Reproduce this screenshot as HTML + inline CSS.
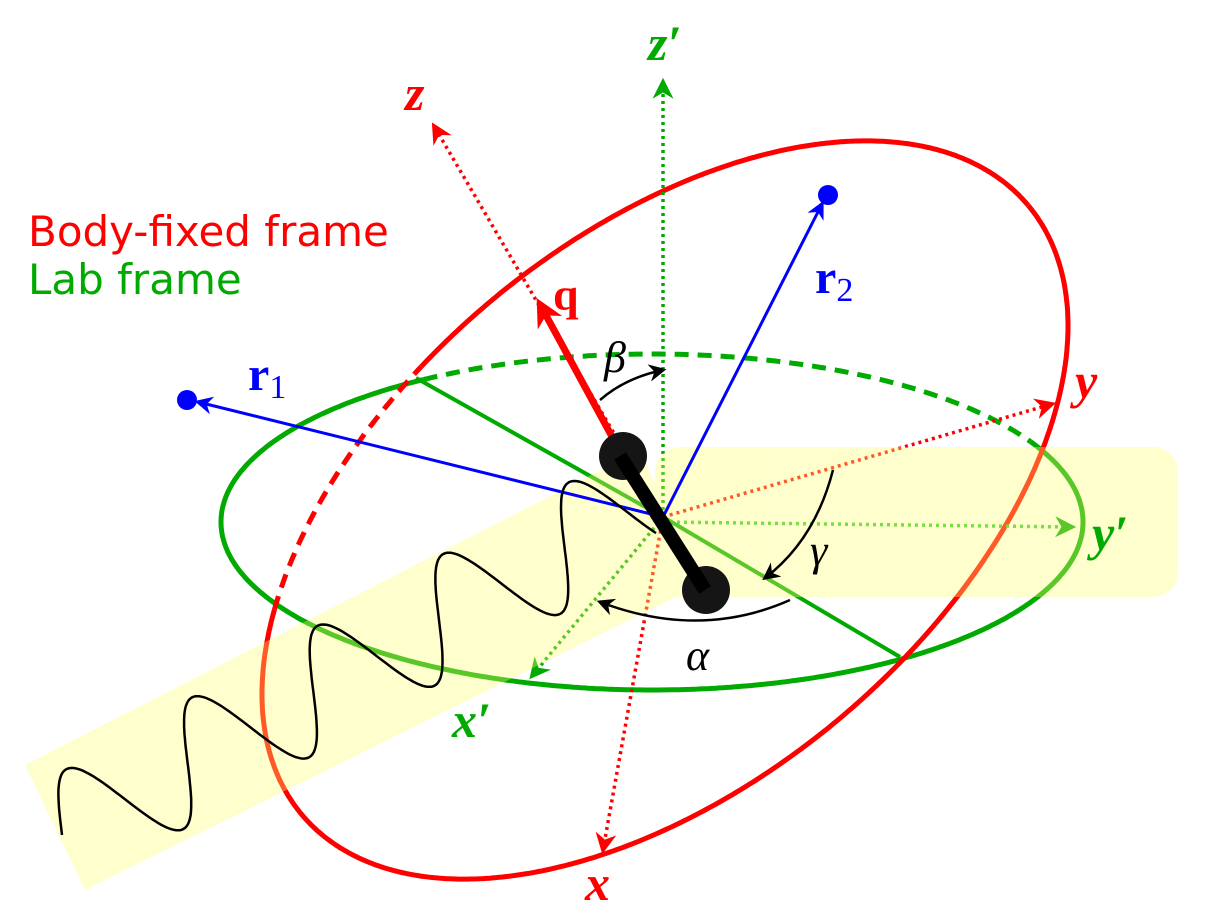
<!DOCTYPE html>
<html><head><meta charset="utf-8"><style>
body{margin:0;background:#fff;width:1210px;height:920px;overflow:hidden}
svg{display:block}
.m{font-family:"Liberation Serif",serif;font-style:italic;font-weight:bold}
</style></head><body>
<svg id="s" width="1210" height="920" viewBox="0 0 1210 920">
<defs>
<marker id="ar" viewBox="0 0 10 10" refX="8" refY="5" markerWidth="6" markerHeight="6" orient="auto"><path d="M0,0L10,5L0,10L3,5z" fill="#f00"/></marker>
<marker id="ag" viewBox="0 0 10 10" refX="8" refY="5" markerWidth="6" markerHeight="6" orient="auto"><path d="M0,0L10,5L0,10L3,5z" fill="#0a0"/></marker>
<marker id="ab" viewBox="0 0 10 10" refX="8" refY="5" markerWidth="6" markerHeight="6" orient="auto"><path d="M0,0L10,5L0,10L3,5z" fill="#00f"/></marker>
<marker id="ak" viewBox="0 0 10 10" refX="8" refY="5" markerWidth="7" markerHeight="7" orient="auto"><path d="M0,0L10,5L0,10L3,5z" fill="#000"/></marker>
<marker id="aq" viewBox="0 0 10 10" refX="6" refY="5" markerWidth="4" markerHeight="4" orient="auto"><path d="M0,0L10,5L0,10L3,5z" fill="#f00"/></marker>
</defs>
<g id="ell"></g>
<g stroke-width="3.5" fill="none" stroke-dasharray="3 4">
<line x1="663" y1="517" x2="434" y2="126" stroke="#f00" marker-end="url(#ar)"/>
<line x1="663" y1="517" x2="603" y2="850" stroke="#f00" marker-end="url(#ar)"/>
<line x1="663" y1="517" x2="1052" y2="404" stroke="#f00" marker-end="url(#ar)"/>
<line x1="663" y1="517" x2="663" y2="82" stroke="#0a0" marker-end="url(#ag)"/>
<line x1="663" y1="522" x2="1072" y2="527" stroke="#3c3" marker-end="url(#ag)"/>
<line x1="663" y1="517" x2="532" y2="676" stroke="#0a0" marker-end="url(#ag)"/>
</g>
<g stroke="#0a0" stroke-width="4">
<line x1="416" y1="378" x2="663" y2="517"/>
<line x1="663" y1="517" x2="900" y2="657"/>
</g>
<g fill="#ffff70" opacity="0.35">
<polygon points="25,765 85,890 700,585 640,450"/>
<rect x="655" y="447" width="523" height="150" rx="25"/>
</g>
<line x1="622" y1="455" x2="542" y2="308" stroke="#f00" stroke-width="7" marker-end="url(#aq)"/>
<line x1="663" y1="517" x2="198" y2="402" stroke="#00f" stroke-width="3" marker-end="url(#ab)"/>
<circle cx="187" cy="400" r="10" fill="#00f"/>
<line x1="663" y1="517" x2="822" y2="204" stroke="#00f" stroke-width="3" marker-end="url(#ab)"/>
<circle cx="828" cy="195" r="10" fill="#00f"/>
<circle cx="623" cy="456" r="24" fill="#151515"/>
<circle cx="706" cy="590" r="24" fill="#151515"/>
<line x1="620" y1="456" x2="705" y2="590" stroke="#000" stroke-width="14"/>
<path id="wave" fill="none" stroke="#000" stroke-width="2.5"/>
<g fill="none" stroke="#000" stroke-width="2.5">
<path d="M600,400 Q625,378 663,370" marker-end="url(#ak)"/>
<path d="M833,470 Q815,540 765,578" marker-end="url(#ak)"/>
<path d="M790,600 Q700,640 600,602" marker-end="url(#ak)"/>
</g>
<text x="28" y="246" font-family="DejaVu Sans,sans-serif" font-size="42" fill="#f00">Body-fixed frame</text>
<text x="28" y="294" font-family="DejaVu Sans,sans-serif" font-size="42" fill="#0a0">Lab frame</text>
<g class="m" font-size="50">
<text x="405" y="110" fill="#f00">z</text>
<text x="648" y="60" fill="#0a0">z′</text>
<text x="1075" y="398" fill="#f00">y</text>
<text x="1092" y="550" fill="#0a0">y′</text>
<text x="585" y="900" fill="#f00">x</text>
<text x="452" y="737" fill="#0a0">x′</text>
<text x="553" y="310" fill="#f00" font-style="normal" font-size="46">q</text>
<text x="248" y="390" fill="#00f" font-style="normal" font-size="48">r<tspan font-size="34" font-weight="normal" dy="8">1</tspan></text>
<text x="815" y="293" fill="#00f" font-style="normal" font-size="48">r<tspan font-size="34" font-weight="normal" dy="8">2</tspan></text>
</g>
<g font-family="Liberation Serif,serif" font-style="italic" font-size="44" fill="#000">
<text x="604" y="372">β</text>
<text x="810" y="565">γ</text>
<text x="686" y="670">α</text>
</g>
</svg>
<script>
const NS="http://www.w3.org/2000/svg";
const g=document.getElementById('ell');
function ellipse(cx,cy,rx,ry,rot,color,isDashed,name){
  const r=rot*Math.PI/180;let segs=[],cur=null,prev=null;
  for(let i=0;i<=720;i++){const t=i/720*2*Math.PI;
    const x=cx+rx*Math.cos(t)*Math.cos(r)-ry*Math.sin(t)*Math.sin(r);
    const y=cy+rx*Math.cos(t)*Math.sin(r)+ry*Math.sin(t)*Math.cos(r);
    const d=isDashed(x,y);
    if(!cur||d!==cur.d){cur={d:d,pts:prev?[prev]:[]};segs.push(cur);}
    cur.pts.push([x,y]);prev=[x,y];}
  segs.forEach(s=>{const p=document.createElementNS(NS,'polyline');
    p.setAttribute('points',s.pts.map(q=>q[0].toFixed(1)+','+q[1].toFixed(1)).join(' '));
    p.setAttribute('fill','none');p.setAttribute('stroke',color);p.setAttribute('stroke-width','5');
    if(s.d)p.setAttribute('stroke-dasharray','14 9');
    
    
    g.appendChild(p);});
}
ellipse(652,522,431,168,0,'#0a0',(x,y)=>y<378+(x-416)*(443-378)/(1037-416),'lab-ellipse');
ellipse(665,510,474,272,-40,'#f00',(x,y)=>y>330&&y<620&&x<419+(y-371)*(285-419)/(592-371),'body-ellipse');
// wave
const sx=62,sy=835,ex=640,ey=505;const L=Math.hypot(ex-sx,ey-sy);const ux=(ex-sx)/L,uy=(ey-sy)/L;
let d='';for(let i=0;i<=400;i++){const s=i/400*L;const a=-55*Math.sin(s/L*2*Math.PI*4.6);
 const x=sx+ux*s-uy*a,y=sy+uy*s+ux*a;d+=(i?'L':'M')+x.toFixed(1)+','+y.toFixed(1);}
document.getElementById('wave').setAttribute('d',d);
</script>
</body></html>
